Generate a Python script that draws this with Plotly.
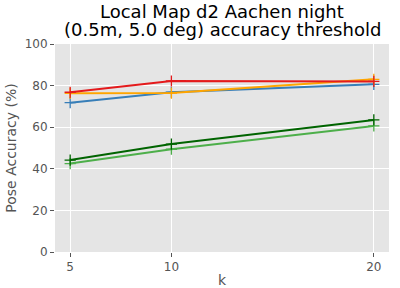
import plotly.graph_objects as go

k = [5, 10, 20]

series_names = ["blue", "orange", "red", "light green", "dark green"]
acc_blue = [71.8, 76.8, 80.6]
acc_orange = [76.3, 76.4, 83.0]
acc_red = [76.8, 82.2, 82.0]
acc_lgreen = [42.5, 49.4, 60.6]
acc_dgreen = [44.2, 51.9, 63.5]

title_lines = ["Local Map d2 Aachen night", "(0.5m, 5.0 deg) accuracy threshold"]

colors = {
    "blue": "#377eb8",
    "orange": "#ffa500",
    "red": "#e41a1c",
    "light green": "#4daf4a",
    "dark green": "#006400",
}
values = {
    "blue": acc_blue,
    "orange": acc_orange,
    "red": acc_red,
    "light green": acc_lgreen,
    "dark green": acc_dgreen,
}

fig = go.Figure()
for name in series_names:
    fig.add_trace(go.Scatter(
        x=k, y=values[name], mode="lines+markers", name=name,
        line=dict(color=colors[name], width=2),
        marker=dict(symbol="cross-thin", size=8, line=dict(color=colors[name], width=1.3)),
        showlegend=False,
    ))

fig.update_layout(
    width=400, height=288,
    margin=dict(l=55, r=11, t=44, b=36),
    paper_bgcolor="white", plot_bgcolor="#e5e5e5",
    font=dict(family="DejaVu Sans", color="#555555"),
)
# title lines placed separately to get matplotlib-like tight line spacing
for line, ypos in zip(title_lines, (1.156, 1.068)):
    fig.add_annotation(
        text=line, xref="paper", x=0.5, xanchor="center",
        yref="paper", y=ypos, yanchor="middle",
        showarrow=False, font=dict(size=18, color="black"),
    )
fig.update_xaxes(
    range=[4.25, 20.75], tickvals=k, ticktext=[str(v) for v in k],
    showgrid=True, gridcolor="white", gridwidth=1, zeroline=False,
    ticks="outside", ticklen=4, tickcolor="#555555", automargin=False,
    tickfont=dict(size=12, color="#555555"),
    title=dict(text="k", font=dict(size=14, color="#555555"), standoff=2),
)
fig.update_yaxes(
    range=[0, 100], tickvals=[0, 20, 40, 60, 80, 100],
    showgrid=True, gridcolor="white", gridwidth=1, zeroline=False,
    ticks="outside", ticklen=4, tickcolor="#555555", automargin=False,
    tickfont=dict(size=12, color="#555555"),
    title=dict(text="Pose Accuracy (%)", font=dict(size=14, color="#555555"), standoff=4),
)

fig.write_html("out.html", config={"displayModeBar": False},
               post_script="document.body.style.margin='0';")
